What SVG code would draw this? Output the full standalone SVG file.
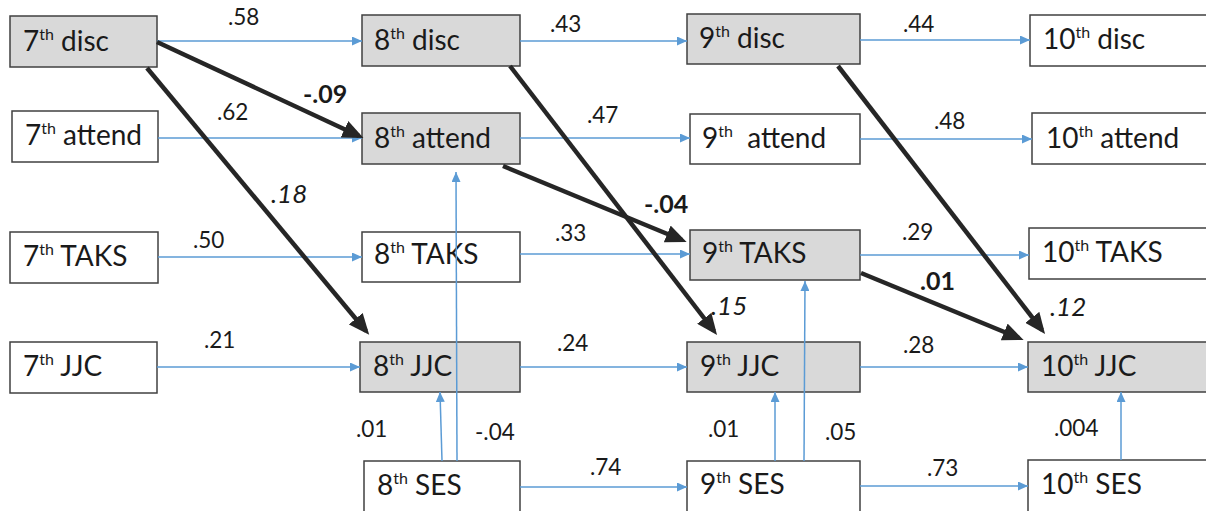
<svg xmlns="http://www.w3.org/2000/svg" width="1206" height="511" viewBox="0 0 1206 511">
<style>
.box{stroke:#404040;stroke-width:1.5}
.g{fill:#d9d9d9}
.w{fill:#ffffff}
.t{font-family:Lato,"Liberation Sans",sans-serif;font-size:28px;fill:#1a1a1a}
.sup{font-size:16px}
.lbl{font-family:Lato,"Liberation Sans",sans-serif;font-size:22.5px;fill:#1a1a1a}
.b{font-weight:bold;font-size:25px}
.i{font-style:italic;font-size:26px}
.bl{stroke:#5b9bd5;stroke-width:1.5;fill:none;marker-end:url(#ab)}
.bk{stroke:#262626;stroke-width:4.5;fill:none;marker-end:url(#ak)}
</style>
<defs>
<marker id="ab" markerUnits="userSpaceOnUse" markerWidth="11" markerHeight="9" refX="10" refY="4.5" orient="auto"><path d="M0,0 L10,4.5 L0,9 z" fill="#5b9bd5"/></marker>
<marker id="ak" markerUnits="userSpaceOnUse" markerWidth="22" markerHeight="18" refX="16" refY="9" orient="auto"><path d="M0,0 L21,9 L0,18 z" fill="#262626"/></marker>
</defs>
<rect width="1206" height="511" fill="#ffffff"/>
<g id="nodes">
<g id="n7disc"><rect class="box g" x="10" y="16" width="147" height="51"/><text class="t" x="23" y="51">7<tspan class="sup" dy="-11">th</tspan><tspan dy="11"> disc</tspan></text></g>
<g id="n8disc"><rect class="box g" x="362" y="15" width="158" height="51"/><text class="t" x="374" y="50">8<tspan class="sup" dy="-11">th</tspan><tspan dy="11"> disc</tspan></text></g>
<g id="n9disc"><rect class="box g" x="687" y="14" width="173" height="50"/><text class="t" x="699" y="48">9<tspan class="sup" dy="-11">th</tspan><tspan dy="11"> disc</tspan></text></g>
<g id="n10disc"><rect class="box w" x="1030" y="15" width="190" height="51"/><text class="t" x="1043" y="49">10<tspan class="sup" dy="-11">th</tspan><tspan dy="11"> disc</tspan></text></g>

<g id="n7attend"><rect class="box w" x="12" y="111" width="146" height="51"/><text class="t" x="25" y="145">7<tspan class="sup" dy="-11">th</tspan><tspan dy="11"> attend</tspan></text></g>
<g id="n8attend"><rect class="box g" x="362" y="113" width="158" height="51"/><text class="t" x="374" y="148">8<tspan class="sup" dy="-11">th</tspan><tspan dy="11"> attend</tspan></text></g>
<g id="n9attend"><rect class="box w" x="690" y="114" width="170" height="50"/><text class="t" x="702" y="148" xml:space="preserve">9<tspan class="sup" dy="-11">th</tspan><tspan dy="11">  attend</tspan></text></g>
<g id="n10attend"><rect class="box w" x="1032" y="113" width="190" height="51"/><text class="t" x="1046" y="148">10<tspan class="sup" dy="-11">th</tspan><tspan dy="11"> attend</tspan></text></g>

<g id="n7TAKS"><rect class="box w" x="10" y="232" width="148" height="51"/><text class="t" x="23" y="266">7<tspan class="sup" dy="-11">th</tspan><tspan dy="11"> TAKS</tspan></text></g>
<g id="n8TAKS"><rect class="box w" x="362" y="232" width="158" height="50"/><text class="t" x="374" y="264">8<tspan class="sup" dy="-11">th</tspan><tspan dy="11"> TAKS</tspan></text></g>
<g id="n9TAKS"><rect class="box g" x="690" y="230" width="170" height="50"/><text class="t" x="702" y="263">9<tspan class="sup" dy="-11">th</tspan><tspan dy="11"> TAKS</tspan></text></g>
<g id="n10TAKS"><rect class="box w" x="1029" y="228" width="190" height="51"/><text class="t" x="1042" y="262">10<tspan class="sup" dy="-11">th</tspan><tspan dy="11"> TAKS</tspan></text></g>

<g id="n7JJC"><rect class="box w" x="10" y="342" width="147" height="51"/><text class="t" x="23" y="376">7<tspan class="sup" dy="-11">th</tspan><tspan dy="11"> JJC</tspan></text></g>
<g id="n8JJC"><rect class="box g" x="360" y="342" width="160" height="50"/><text class="t" x="373" y="376">8<tspan class="sup" dy="-11">th</tspan><tspan dy="11"> JJC</tspan></text></g>
<g id="n9JJC"><rect class="box g" x="687" y="342" width="173" height="50"/><text class="t" x="700" y="376">9<tspan class="sup" dy="-11">th</tspan><tspan dy="11"> JJC</tspan></text></g>
<g id="n10JJC"><rect class="box g" x="1028" y="342" width="190" height="50"/><text class="t" x="1041" y="376">10<tspan class="sup" dy="-11">th</tspan><tspan dy="11"> JJC</tspan></text></g>

<g id="n8SES"><rect class="box w" x="364" y="461" width="156" height="52"/><text class="t" x="377" y="495">8<tspan class="sup" dy="-11">th</tspan><tspan dy="11"> SES</tspan></text></g>
<g id="n9SES"><rect class="box w" x="687" y="461" width="173" height="52"/><text class="t" x="700" y="494">9<tspan class="sup" dy="-11">th</tspan><tspan dy="11"> SES</tspan></text></g>
<g id="n10SES"><rect class="box w" x="1028" y="460" width="190" height="53"/><text class="t" x="1041" y="494">10<tspan class="sup" dy="-11">th</tspan><tspan dy="11"> SES</tspan></text></g>
</g>

<g id="connectors">
<line class="bl" x1="157" y1="41" x2="362" y2="41"/>
<line class="bl" x1="158" y1="138" x2="362" y2="138"/>
<line class="bl" x1="158" y1="257" x2="362" y2="257"/>
<line class="bl" x1="157" y1="367" x2="360" y2="367"/>
<line class="bl" x1="520" y1="41" x2="687" y2="41"/>
<line class="bl" x1="520" y1="138" x2="690" y2="138"/>
<line class="bl" x1="520" y1="254" x2="690" y2="254"/>
<line class="bl" x1="520" y1="367" x2="687" y2="367"/>
<line class="bl" x1="520" y1="487" x2="687" y2="487"/>
<line class="bl" x1="860" y1="40" x2="1030" y2="40"/>
<line class="bl" x1="860" y1="139" x2="1032" y2="139"/>
<line class="bl" x1="860" y1="255" x2="1029" y2="255"/>
<line class="bl" x1="860" y1="367" x2="1028" y2="367"/>
<line class="bl" x1="860" y1="486" x2="1028" y2="486"/>
<line class="bl" x1="442" y1="461" x2="440" y2="392"/>
<line class="bl" x1="457" y1="461" x2="456" y2="172"/>
<line class="bl" x1="775" y1="461" x2="775" y2="392"/>
<line class="bl" x1="804" y1="461" x2="805" y2="281"/>
<line class="bl" x1="1121" y1="460" x2="1121" y2="392"/>
<line class="bk" x1="157" y1="42" x2="359" y2="136"/>
<line class="bk" x1="147" y1="68" x2="366" y2="331"/>
<line class="bk" x1="510" y1="66" x2="714" y2="331"/>
<line class="bk" x1="503" y1="166" x2="682" y2="240"/>
<line class="bk" x1="838" y1="66" x2="1042" y2="330"/>
<line class="bk" x1="861" y1="273" x2="1019" y2="338"/>
</g>

<g id="labels">
<text class="lbl" x="228" y="25">.58</text>
<text class="lbl" x="217" y="120">.62</text>
<text class="lbl b" x="303" y="103">-.09</text>
<text class="lbl i" x="271" y="203">.18</text>
<text class="lbl" x="193" y="248">.50</text>
<text class="lbl" x="204" y="348">.21</text>
<text class="lbl" x="550" y="32">.43</text>
<text class="lbl" x="587" y="123">.47</text>
<text class="lbl b" x="644" y="213">-.04</text>
<text class="lbl" x="555" y="241">.33</text>
<text class="lbl i" x="711" y="315">.15</text>
<text class="lbl" x="557" y="351">.24</text>
<text class="lbl" x="903" y="32">.44</text>
<text class="lbl" x="934" y="129">.48</text>
<text class="lbl" x="902" y="240">.29</text>
<text class="lbl b" x="920" y="290">.01</text>
<text class="lbl i" x="1050" y="316">.12</text>
<text class="lbl" x="903" y="353">.28</text>
<text class="lbl" x="356" y="437">.01</text>
<text class="lbl" x="475" y="440">-.04</text>
<text class="lbl" x="590" y="475">.74</text>
<text class="lbl" x="708" y="437">.01</text>
<text class="lbl" x="825" y="440">.05</text>
<text class="lbl" x="1054" y="436">.004</text>
<text class="lbl" x="927" y="476">.73</text>
</g>
</svg>
